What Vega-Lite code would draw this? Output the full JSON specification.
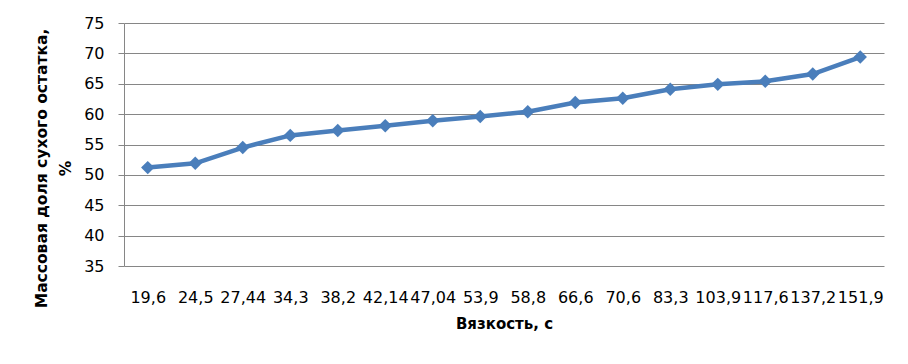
{
  "$schema": "https://vega.github.io/schema/vega-lite/v6.json",
  "autosize": {"type": "none"},
  "padding": {"left": 124, "top": 23, "right": 24, "bottom": 98},
  "width": 760,
  "height": 243,
  "background": "white",
  "config": {
    "view": {"stroke": null},
    "font": "DejaVu Sans"
  },
  "data": {
    "values": [
      {"v": "19,6", "m": 51.2},
      {"v": "24,5", "m": 51.9},
      {"v": "27,44", "m": 54.5},
      {"v": "34,3", "m": 56.5},
      {"v": "38,2", "m": 57.3},
      {"v": "42,14", "m": 58.1},
      {"v": "47,04", "m": 58.9},
      {"v": "53,9", "m": 59.6},
      {"v": "58,8", "m": 60.4},
      {"v": "66,6", "m": 61.9},
      {"v": "70,6", "m": 62.6},
      {"v": "83,3", "m": 64.1},
      {"v": "103,9", "m": 64.9},
      {"v": "117,6", "m": 65.4},
      {"v": "137,2", "m": 66.6},
      {"v": "151,9", "m": 69.4}
    ]
  },
  "encoding": {
    "x": {
      "field": "v",
      "type": "ordinal",
      "sort": null,
      "scale": {"type": "point", "padding": 0.5},
      "axis": {
        "title": "Вязкость, с",
        "titleFont": "DejaVu Sans",
        "titleFontSize": 15,
        "titleFontWeight": "bold",
        "titleColor": "black",
        "titlePadding": 11,
        "labelAngle": 0,
        "labelFont": "DejaVu Sans",
        "labelFontSize": 16,
        "labelColor": "black",
        "labelOverlap": false,
        "labelPadding": 23,
        "ticks": false,
        "domain": false,
        "grid": false
      }
    },
    "y": {
      "field": "m",
      "type": "quantitative",
      "scale": {"domain": [35, 75], "nice": false, "zero": false},
      "axis": {
        "values": [35, 40, 45, 50, 55, 60, 65, 70, 75],
        "title": ["Массовая доля сухого остатка,", "%"],
        "titleFont": "DejaVu Sans",
        "titleFontSize": 15.5,
        "titleFontWeight": "bold",
        "titleColor": "black",
        "titleLineHeight": 24,
        "titlePadding": 10,
        "titleY": 145,
        "labelFont": "DejaVu Sans",
        "labelFontSize": 16,
        "labelColor": "black",
        "labelPadding": 14,
        "tickSize": 6,
        "tickColor": "#868686",
        "domainColor": "#868686",
        "gridColor": "#868686",
        "gridOpacity": 1,
        "grid": true
      }
    }
  },
  "layer": [
    {"mark": {"type": "line", "color": "#4a7ebb", "strokeWidth": 4.5}},
    {"mark": {"type": "point", "shape": "diamond", "filled": true, "opacity": 1, "color": "#4a7ebb", "size": 180}}
  ]
}
